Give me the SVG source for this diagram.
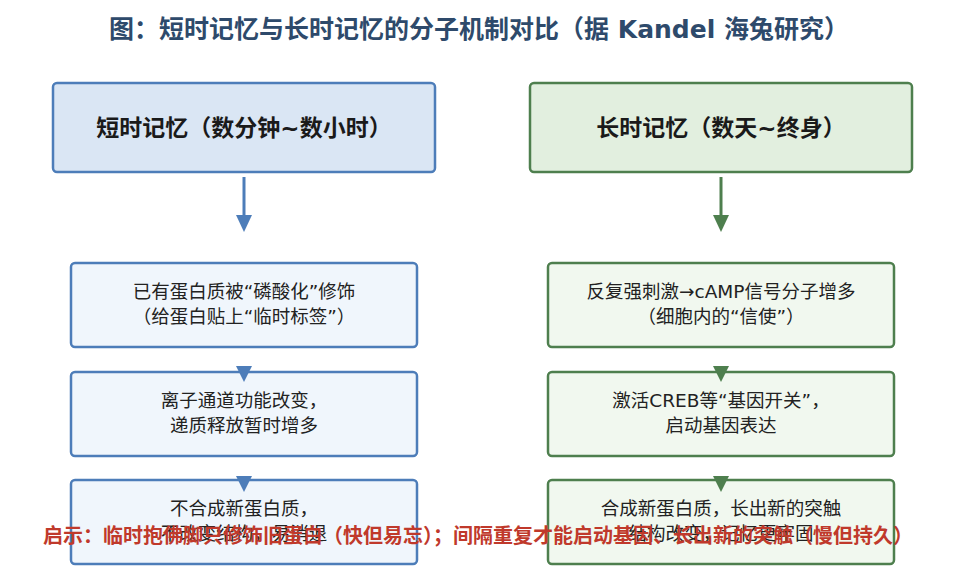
<svg xmlns="http://www.w3.org/2000/svg" width="965" height="587" viewBox="0 0 965 587">
<style>
text{font-family:"DejaVu Sans","Noto Sans CJK SC",sans-serif;text-anchor:middle}
.title{font-size:25px;font-weight:bold;fill:#2e4a6b}
.hdr{font-size:23px;font-weight:bold;fill:#1a1a1a}
.txt{font-size:18.5px;fill:#222}
.note{font-size:20px;font-weight:bold;fill:#c0392b}
.bh{fill:#dae6f4;stroke:#4d7db9;stroke-width:2.5}
.bb{fill:#f0f6fc;stroke:#4d7db9;stroke-width:2.5}
.gh{fill:#e2efdf;stroke:#4e7f4e;stroke-width:2.5}
.gb{fill:#f1f8ef;stroke:#4e7f4e;stroke-width:2.5}
.lb{stroke:#4d7db9;stroke-width:3;fill:none}
.lg{stroke:#4e7f4e;stroke-width:3;fill:none}
.ab{fill:#4d7db9}
.ag{fill:#4e7f4e}
</style>
<rect width="965" height="587" fill="#ffffff"/>
<text class="title" x="479" y="38">图：短时记忆与长时记忆的分子机制对比（据 Kandel 海兔研究）</text>
<g id="short-head">
<rect class="bh" x="53" y="83" width="382" height="89" rx="4"/>
<text class="hdr" x="244" y="136">短时记忆（数分钟~数小时）</text>
</g>
<g id="long-head">
<rect class="gh" x="530" y="83" width="382" height="89" rx="4"/>
<text class="hdr" x="721" y="136">长时记忆（数天~终身）</text>
</g>
<g id="short-1">
<rect class="bb" x="71" y="263" width="346" height="84" rx="4"/>
<text class="txt" x="244" y="298">已有蛋白质被“磷酸化”修饰</text>
<text class="txt" x="244" y="323">（给蛋白贴上“临时标签”）</text>
</g>
<g id="long-1">
<rect class="gb" x="548" y="263" width="346" height="84" rx="4"/>
<text class="txt" x="721" y="298">反复强刺激→cAMP信号分子增多</text>
<text class="txt" x="721" y="323">（细胞内的“信使”）</text>
</g>
<g id="short-2">
<rect class="bb" x="71" y="372" width="346" height="84" rx="4"/>
<text class="txt" x="244" y="407">离子通道功能改变，</text>
<text class="txt" x="244" y="432">递质释放暂时增多</text>
</g>
<g id="long-2">
<rect class="gb" x="548" y="372" width="346" height="84" rx="4"/>
<text class="txt" x="721" y="407">激活CREB等“基因开关”，</text>
<text class="txt" x="721" y="432">启动基因表达</text>
</g>
<g id="short-3">
<rect class="bb" x="71" y="480" width="346" height="84" rx="4"/>
<text class="txt" x="244" y="515">不合成新蛋白质，</text>
<text class="txt" x="244" y="540">不改变结构，易消退</text>
</g>
<g id="long-3">
<rect class="gb" x="548" y="480" width="346" height="84" rx="4"/>
<text class="txt" x="721" y="515">合成新蛋白质，长出新的突触</text>
<text class="txt" x="721" y="540">结构改变，记忆更牢固</text>
</g>
<g id="connectors">
<line class="lb" x1="244" y1="177" x2="244" y2="216"/>
<polygon class="ab" points="236,215 252,215 244,232"/>
<line class="lg" x1="721" y1="177" x2="721" y2="216"/>
<polygon class="ag" points="713,215 729,215 721,232"/>
<polygon class="ab" points="236,366 252,366 244,382"/>
<polygon class="ag" points="713,366 729,366 721,382"/>
<polygon class="ab" points="236,476 252,476 244,492"/>
<polygon class="ag" points="713,476 729,476 721,492"/>
</g>
<text class="note" x="478" y="543">启示：临时抱佛脚只修饰旧蛋白（快但易忘）；间隔重复才能启动基因、长出新的突触（慢但持久）</text>
</svg>
